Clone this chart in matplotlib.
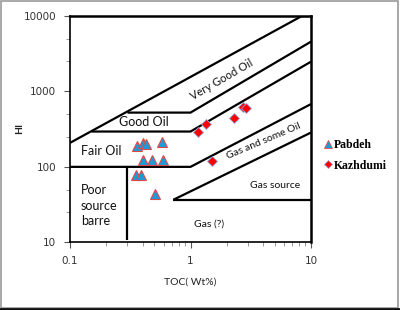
import matplotlib
matplotlib.use("Agg")
import matplotlib.pyplot as plt
from matplotlib.patches import Rectangle
from matplotlib.lines import Line2D

# Sample data (TOC wt%, HI)
pabdeh_toc = [0.36, 0.40, 0.43, 0.58, 0.40, 0.48, 0.59, 0.35, 0.39, 0.51]
pabdeh_hi = [191, 206, 202, 216, 124, 124, 124, 77, 77, 44]
kazhdumi_toc = [1.16, 1.34, 2.31, 2.74, 2.87, 1.52]
kazhdumi_hi = [294, 368, 450, 630, 600, 121]

# Classification boundary lines (TOC, HI)
upper_x = [0.1, 8.4, 10]
upper_y = [208, 10000, 10000]
vgood_x = [0.30, 1.0, 10]
vgood_y = [524, 524, 4570]
good_x = [0.151, 1.0, 10]
good_y = [294, 294, 2480]
fair_x = [0.1, 1.0, 10]
fair_y = [100, 100, 680]
gas_src_x = [0.72, 10]
gas_src_y = [36.6, 285]
gas_x = [0.72, 10]
gas_y = [36.6, 36.6]
poor_x = [0.30, 0.30]
poor_y = [100, 10.6]

x_ticks = [0.1, 1, 10]
x_ticklabels = ["0.1", "1", "10"]
y_ticks = [10, 100, 1000, 10000]
y_ticklabels = ["10", "100", "1000", "10000"]

fig = plt.figure(figsize=(4.0, 3.1), dpi=100)
ax = fig.add_axes([0.175, 0.2184, 0.6025, 0.73])
ax.set_xscale("log")
ax.set_yscale("log")

lw = 1.6
for xs, ys in [(upper_x, upper_y), (vgood_x, vgood_y), (good_x, good_y),
               (fair_x, fair_y), (gas_src_x, gas_src_y), (gas_x, gas_y),
               (poor_x, poor_y)]:
    ax.plot(xs, ys, color="black", lw=lw, solid_capstyle="butt", zorder=2)

ax.plot(pabdeh_toc, pabdeh_hi, linestyle="none", marker="^", ms=7,
        mfc="#1E9BD7", mec="#E04848", mew=0.8, zorder=3)
ax.plot(kazhdumi_toc, kazhdumi_hi, linestyle="none", marker="D", ms=5,
        mfc="#FF0000", mec="#8FA8E0", mew=0.6, zorder=3)

for side in ["left", "bottom"]:
    ax.spines[side].set_linewidth(1.2)
for side in ["top", "right"]:
    ax.spines[side].set_linewidth(1.8)

ax.set_xticks(x_ticks)
ax.set_xticklabels(x_ticklabels)
ax.set_yticks(y_ticks)
ax.set_yticklabels(y_ticklabels)
minor_y = []
for k in [10, 100, 1000]:
    minor_y += [2.5 * k, 5 * k]
ax.set_yticks(minor_y, minor=True)
ax.set_yticklabels([], minor=True)
minor_x = [m * k for k in [0.1, 1] for m in range(2, 10)]
ax.set_xticks(minor_x, minor=True)
ax.set_xticklabels([], minor=True)
ax.set_xlim(0.1, 10)
ax.set_ylim(10, 10000)
ax.tick_params(which="major", length=4, width=0.8, color="#555555",
               labelsize=7.5, labelcolor="#333333", pad=6)
ax.tick_params(which="minor", length=3, width=0.6, color="#888888")

lf = "Lato"
ax.set_xlabel("TOC( Wt%)", fontsize=7.5, fontfamily=lf, labelpad=8, color="#222222")
ax.set_ylabel("HI", fontsize=7.5, fontweight="bold", fontfamily=lf, color="#222222")
ax.yaxis.set_label_coords(-0.19, 0.505)

def place(px, py, s, **kw):
    # px, py in figure pixel coords (origin top-left)
    fig.text(px / 400, 1 - py / 310, s, fontfamily=lf, color="#111111", **kw)

place(222, 80, "Very Good Oil", fontsize=8, rotation=30, ha="center", va="center",
      rotation_mode="anchor")
place(144, 122, "Good Oil", fontsize=9, ha="center", va="center")
place(81, 151, "Fair Oil", fontsize=9, ha="left", va="center")
place(81, 205.5, "Poor\nsource\nbarre", fontsize=9, ha="left", va="center",
      linespacing=1.35)
place(264, 141, "Gas and some Oil", fontsize=7.5, rotation=23, ha="center",
      va="center", rotation_mode="anchor")
place(275, 185, "Gas source", fontsize=7.5, ha="center", va="center")
place(209, 224, "Gas (?)", fontsize=7.5, ha="center", va="center")

# Legend
leg_handles = [
    Line2D([], [], linestyle="none", marker="^", ms=6, mfc="#1E9BD7",
           mec="#E04848", mew=0.6),
    Line2D([], [], linestyle="none", marker="D", ms=4.5, mfc="#FF0000",
           mec="#8FA8E0", mew=0.5),
]
leg = fig.legend(leg_handles, ["Pabdeh", "Kazhdumi"],
                 loc="center left", bbox_to_anchor=(320 / 400, 1 - 155.5 / 310),
                 frameon=False, handlelength=0.6, handletextpad=0.15,
                 labelspacing=0.7, borderaxespad=0,
                 prop={"family": "Liberation Serif", "weight": "bold", "size": 8.5})

# Figure border
fig.patches.append(Rectangle((0.5 / 400, 2.5 / 310), 397.5 / 400, 306.5 / 310,
                             transform=fig.transFigure, fill=False,
                             edgecolor="#9a9a9a", lw=1.2))
fig.lines.append(Line2D([0, 1], [1.2 / 310, 1.2 / 310], transform=fig.transFigure,
                        color="#111111", lw=2.0))

fig.savefig("out.png", dpi=100)
